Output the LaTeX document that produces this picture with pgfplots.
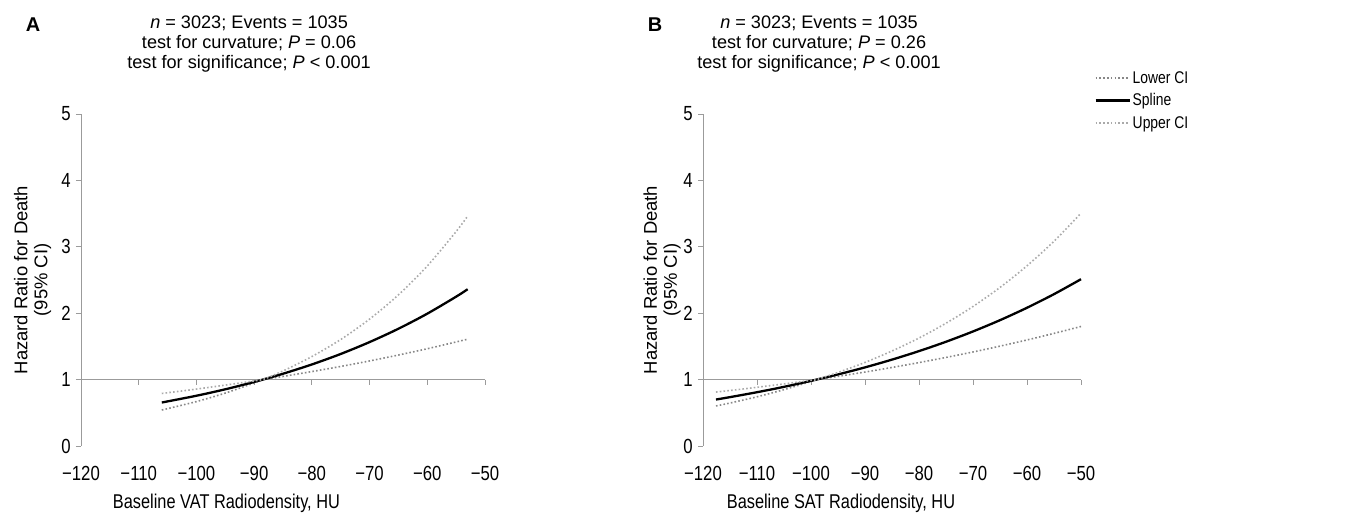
\documentclass[border=0pt]{standalone}
\usepackage{pgfplots}
\pgfplotsset{compat=1.18}
\usepackage{fontspec}
\setmainfont{Liberation Sans}
\newfontfamily\narrow[FakeStretch=0.82]{Liberation Sans}
\definecolor{axgray}{RGB}{155,155,155}
\definecolor{upgray}{RGB}{170,170,170}
\definecolor{lowgray}{RGB}{135,135,135}
\pgfplotsset{
  hrstyle/.style={
    scale only axis, clip=false,
    ymin=0, ymax=5, xmin=-120, xmax=-50,
    axis lines*=left,
    axis line style={draw=axgray, line width=0.8bp},
    x axis line style={draw=none},
    xtick={-120,-110,-100,-90,-80,-70,-60,-50},
    xticklabels={−120,−110,−100,−90,−80,−70,−60,−50},
    xtick style={draw=none},
    ytick={0,1,2,3,4,5},
    yticklabels={0,1,2,3,4,5},
    ytick style={draw=axgray, line width=0.8bp},
    tick align=outside, major tick length=5bp,
    xticklabel style={anchor=center, yshift=-22bp, font=\narrow\fontsize{20.5}{20.5}\selectfont},
    yticklabel style={anchor=center, xshift=-10bp, font=\narrow\fontsize{20.5}{20.5}\selectfont},
    xlabel style={font=\narrow\fontsize{20}{20}\selectfont, anchor=center},
    ylabel style={font=\fontsize{18.5}{20}\selectfont, align=center, anchor=center},
    title style={font=\fontsize{18.2}{20}\selectfont, align=center, anchor=center},
    splinestyle/.style={black, line width=2.3bp, smooth},
    cistyle/.style={line width=1.6bp, dash pattern=on 1.6bp off 2.2bp, smooth},
  }
}
\begin{document}
\begin{tikzpicture}
\path[use as bounding box] (0,0) rectangle (1349bp,515bp);
% ---------------- Panel A ----------------
\begin{axis}[hrstyle,
  at={(81bp,69bp)}, anchor=south west, width=404bp, height=332bp,
  xlabel={Baseline VAT Radiodensity, HU},
  xlabel style={at={(axis description cs:0.36,-0.172)}},
  ylabel={Hazard Ratio for Death\\(95\% CI)},
  ylabel style={at={(axis description cs:-0.12,0.5)}},
  title={\textit{n} = 3023; Events = 1035\\test for curvature; \textit{P} = 0.06\\test for significance; \textit{P} < 0.001},
  title style={at={(axis description cs:0.416,1.193)}},
]
\draw[axgray, line width=0.8bp] (axis cs:-120,1) -- (axis cs:-50,1);
\pgfplotsinvokeforeach{-110,-100,-90,-80,-70,-60,-50}{\draw[axgray, line width=0.8bp] (axis cs:#1,1) -- ([yshift=-5bp]axis cs:#1,1);}
\addplot[cistyle, lowgray] coordinates {
(-106,0.542) (-100,0.669) (-95,0.797) (-90,0.949) (-88.5,1.0) (-85,1.048) (-80,1.121)
(-75,1.198) (-70,1.281) (-65,1.370) (-60,1.465) (-55,1.567) (-53,1.609)};
\addplot[splinestyle] coordinates {
(-106,0.655) (-100,0.757) (-95,0.854) (-90,0.964) (-88.5,1.0) (-85,1.088) (-80,1.228)
(-75,1.386) (-70,1.565) (-65,1.766) (-60,1.993) (-55,2.249) (-53,2.361)};
\addplot[cistyle, upgray] coordinates {
(-106,0.791) (-100,0.857) (-95,0.917) (-90,0.980) (-88.5,1.0) (-85,1.130) (-80,1.347)
(-75,1.604) (-70,1.911) (-65,2.276) (-60,2.711) (-55,3.230) (-53,3.464)};
\end{axis}
% ---------------- Panel B ----------------
\begin{axis}[hrstyle,
  at={(703bp,69bp)}, anchor=south west, width=378bp, height=332bp,
  xlabel={Baseline SAT Radiodensity, HU},
  xlabel style={at={(axis description cs:0.365,-0.172)}},
  ylabel={Hazard Ratio for Death\\(95\% CI)},
  ylabel style={at={(axis description cs:-0.108,0.5)}},
  title={\textit{n} = 3023; Events = 1035\\test for curvature; \textit{P} = 0.26\\test for significance; \textit{P} < 0.001},
  title style={at={(axis description cs:0.307,1.193)}},
  legend style={at={(axis description cs:1.035,1.135)}, anchor=north west, draw=none, fill=none,
    font=\narrow\fontsize{17}{17}\selectfont, row sep=5bp, inner sep=0pt, cells={anchor=west}},
  legend image code/.code={\draw[#1] (0bp,0bp) -- (34bp,0bp);},
]
\draw[axgray, line width=0.8bp] (axis cs:-120,1) -- (axis cs:-50,1);
\pgfplotsinvokeforeach{-110,-100,-90,-80,-70,-60,-50}{\draw[axgray, line width=0.8bp] (axis cs:#1,1) -- ([yshift=-5bp]axis cs:#1,1);}
\addplot[cistyle, lowgray] coordinates {
(-117.6,0.603) (-115,0.647) (-110,0.741) (-105,0.849) (-100,0.973) (-99,1.0) (-95,1.049)
(-90,1.114) (-85,1.183) (-80,1.256) (-75,1.334) (-70,1.416) (-65,1.504) (-60,1.597) (-55,1.696) (-50,1.800)};
\addlegendentry{Lower CI}
\addplot[splinestyle] coordinates {
(-117.6,0.700) (-115,0.736) (-110,0.810) (-105,0.891) (-100,0.981) (-99,1.0) (-95,1.078)
(-90,1.184) (-85,1.301) (-80,1.429) (-75,1.570) (-70,1.725) (-65,1.895) (-60,2.082) (-55,2.287) (-50,2.512)};
\addlegendentry{Spline}
\addplot[cistyle, upgray] coordinates {
(-117.6,0.812) (-115,0.836) (-110,0.884) (-105,0.935) (-100,0.989) (-99,1.0) (-95,1.108)
(-90,1.259) (-85,1.431) (-80,1.626) (-75,1.849) (-70,2.101) (-65,2.388) (-60,2.714) (-55,3.084) (-50,3.506)};
\addlegendentry{Upper CI}
\end{axis}
\node[font=\bfseries\fontsize{20}{20}\selectfont] at (33bp,490bp) {A};
\node[font=\bfseries\fontsize{20}{20}\selectfont] at (655bp,490bp) {B};
\end{tikzpicture}
\end{document}
